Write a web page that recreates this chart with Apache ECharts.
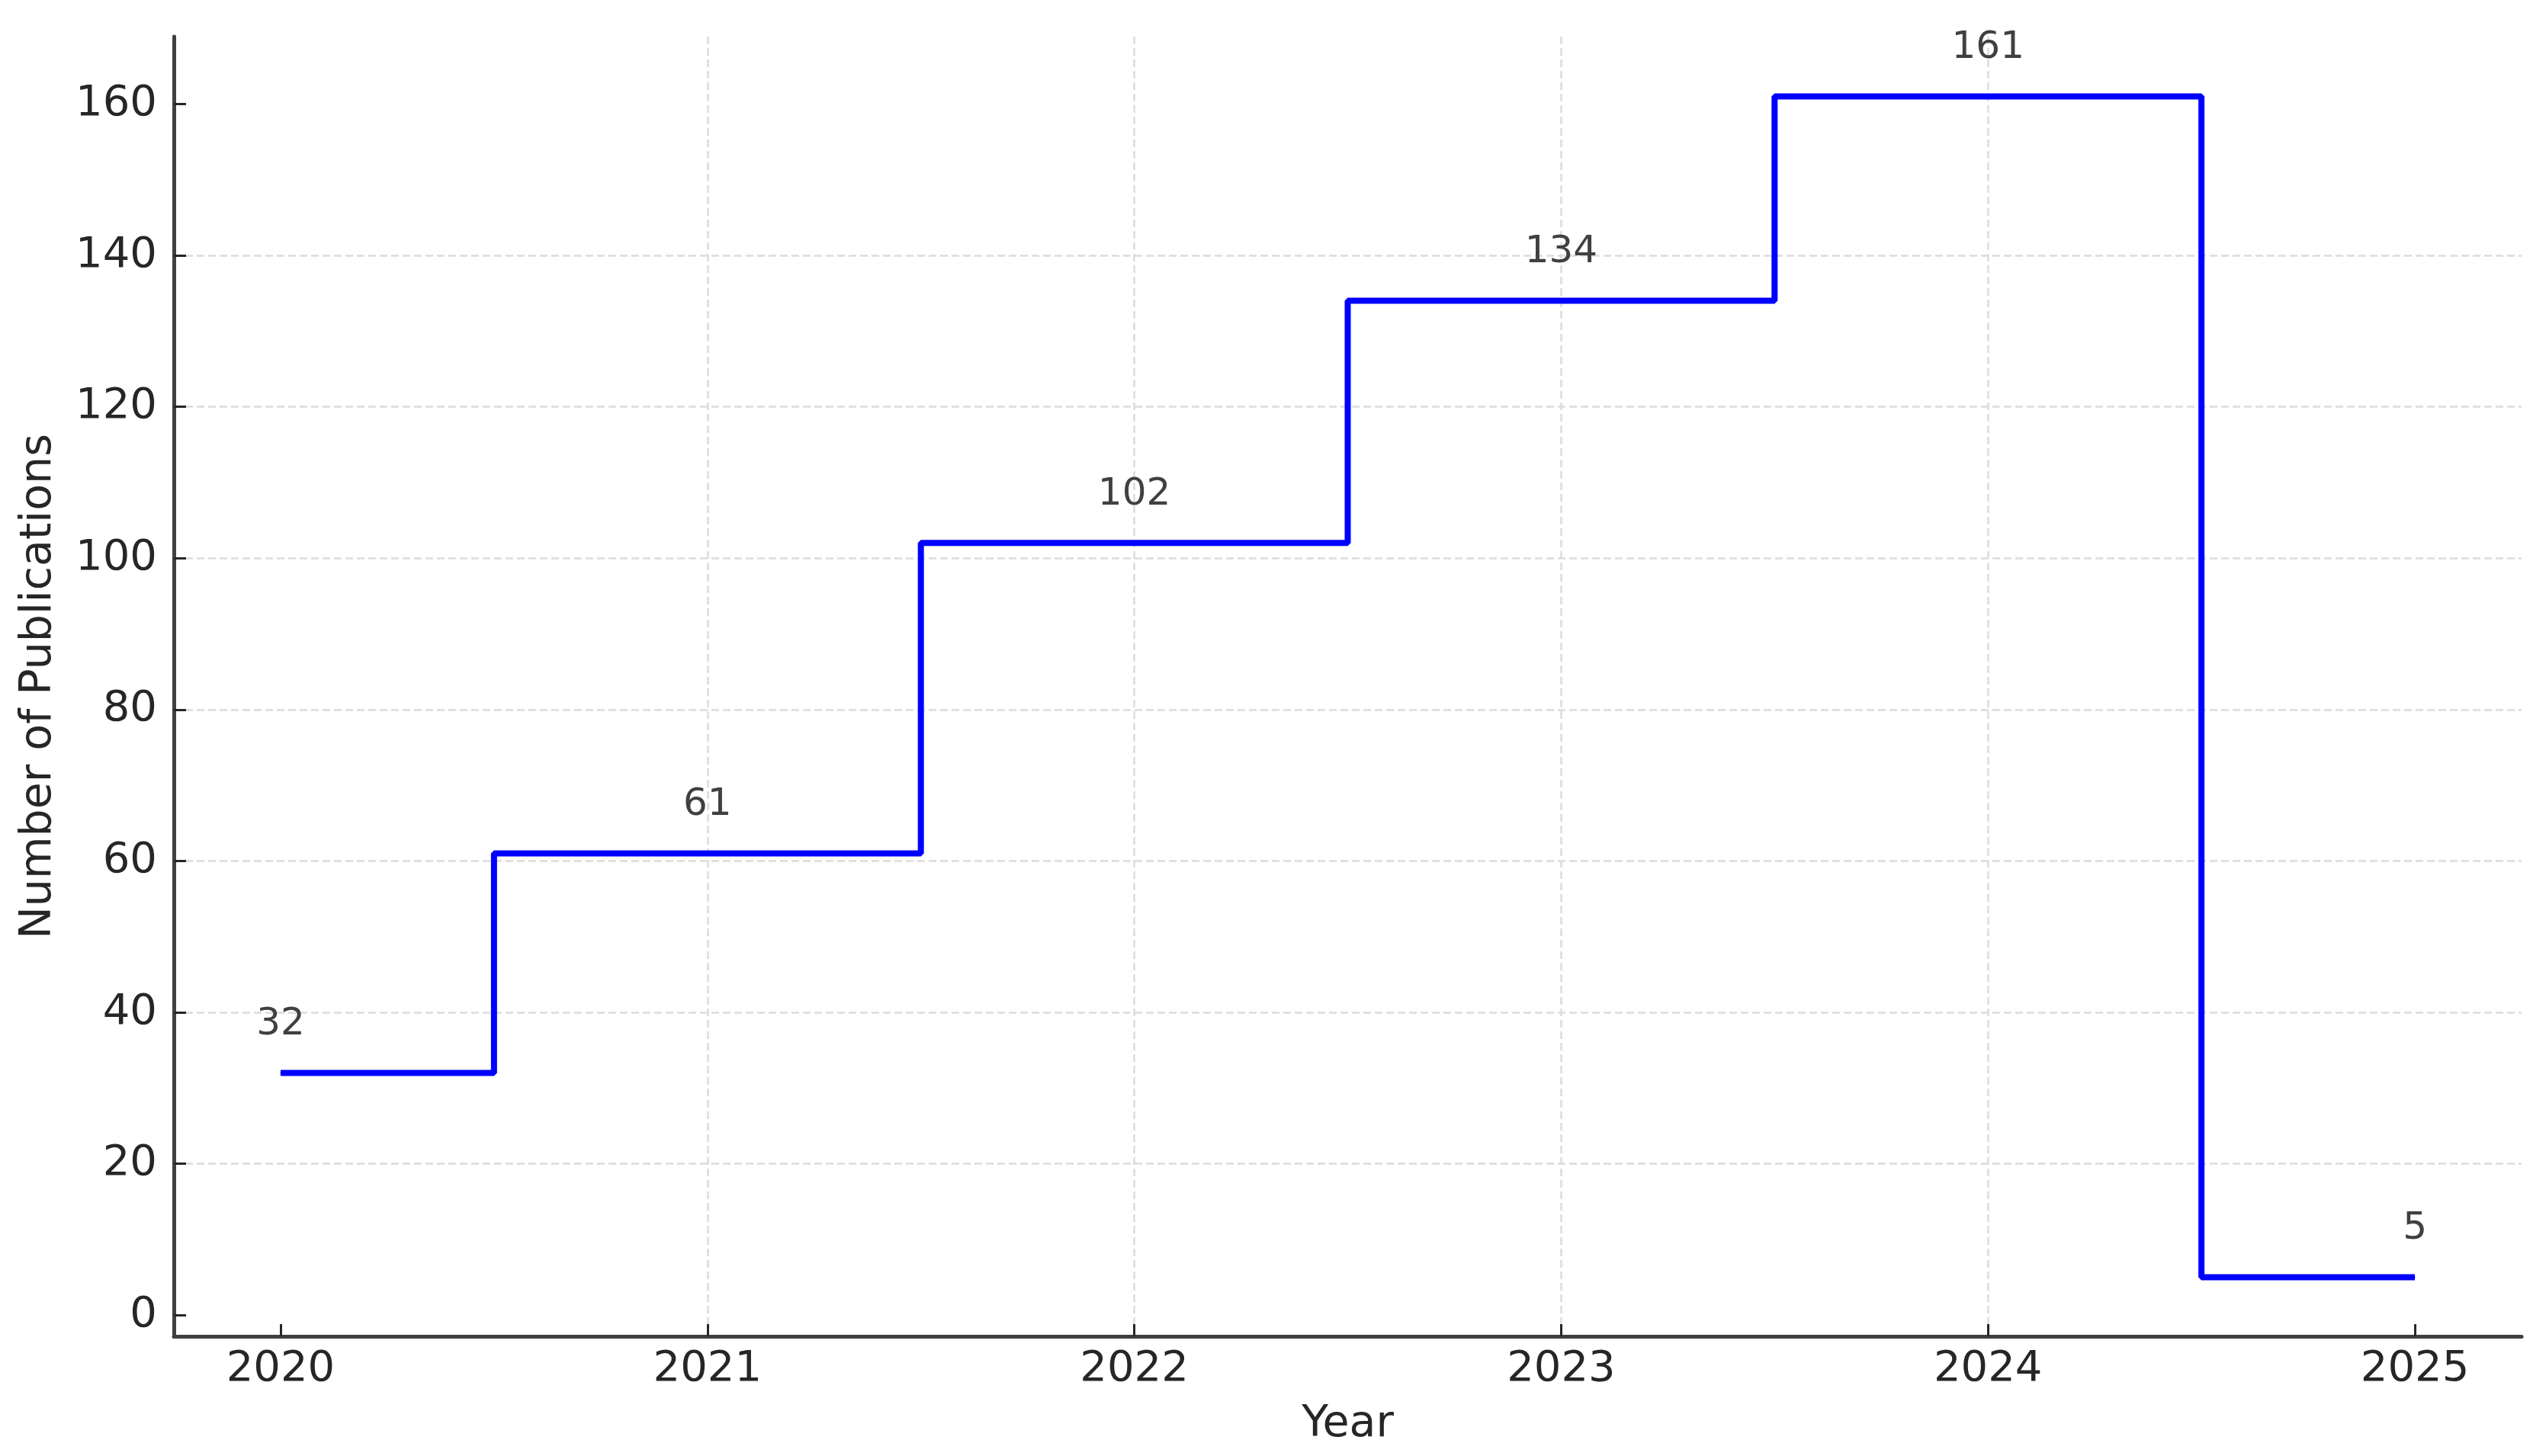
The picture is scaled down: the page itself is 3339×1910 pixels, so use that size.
<!DOCTYPE html>
<html>
<head>
<meta charset="utf-8">
<title>Number of Publications per Year</title>
<script src="https://cdn.jsdelivr.net/npm/echarts@6/dist/echarts.min.js"></script>
<style>
  html, body { margin: 0; padding: 0; background: #fff; }
  #main { width: 3339px; height: 1910px; }
</style>
</head>
<body>
<div id="main"></div>
<script>
// data
var years = [2020, 2021, 2022, 2023, 2024, 2025];
var counts = [32, 61, 102, 134, 161, 5];
var yTicks = [0, 20, 40, 60, 80, 100, 120, 140, 160];

var seriesData = [];
for (var i = 0; i < years.length; i++) {
  seriesData.push([years[i], counts[i]]);
}

var myChart = echarts.init(document.getElementById('main'));

var font = 'DejaVu Sans';
var gridLine = { show: true, showMinLine: false, showMaxLine: false,
  lineStyle: { color: '#dcdcdc', width: 2.5, type: [10, 5] } };

var option = {
  animation: false,
  backgroundColor: '#ffffff',
  grid: { left: 228, right: 32, top: 48, bottom: 157, containLabel: false },
  xAxis: {
    type: 'value',
    min: 2019.75,
    max: 2025.25,
    minInterval: 1,
    maxInterval: 1,
    name: 'Year',
    nameLocation: 'middle',
    nameGap: 88,
    nameTextStyle: { fontFamily: font, fontSize: 57, color: '#262626' },
    axisLine: { show: true, onZero: false, lineStyle: { color: '#404040', width: 5 } },
    axisTick: { show: true, inside: true, length: 16, customValues: years,
      lineStyle: { color: '#262626', width: 3 } },
    axisLabel: { customValues: years, margin: 15, fontFamily: font, fontSize: 56, color: '#262626',
      formatter: function (v) { return String(v); } },
    splitLine: gridLine
  },
  yAxis: {
    type: 'value',
    min: -2.8,
    max: 168.9,
    minInterval: 20,
    maxInterval: 20,
    name: 'Number of Publications',
    nameLocation: 'middle',
    nameGap: 148,
    nameRotate: 90,
    nameTextStyle: { fontFamily: font, fontSize: 57, color: '#262626' },
    axisLine: { show: true, onZero: false, lineStyle: { color: '#404040', width: 5 } },
    axisTick: { show: true, inside: true, length: 16, customValues: yTicks,
      lineStyle: { color: '#262626', width: 3 } },
    axisLabel: { customValues: yTicks, margin: 22, fontFamily: font, fontSize: 56, color: '#262626' },
    splitLine: gridLine
  },
  series: [{
    name: 'Publications',
    type: 'line',
    step: 'middle',
    data: seriesData,
    showSymbol: true,
    symbol: 'circle',
    symbolSize: 1,
    itemStyle: { color: '#0000ff' },
    lineStyle: { color: '#0000ff', width: 8 },
    label: {
      show: true,
      position: 'top',
      distance: 38,
      fontFamily: font,
      fontSize: 50,
      color: '#404040'
    }
  }]
};

myChart.setOption(option);
</script>
</body>
</html>
